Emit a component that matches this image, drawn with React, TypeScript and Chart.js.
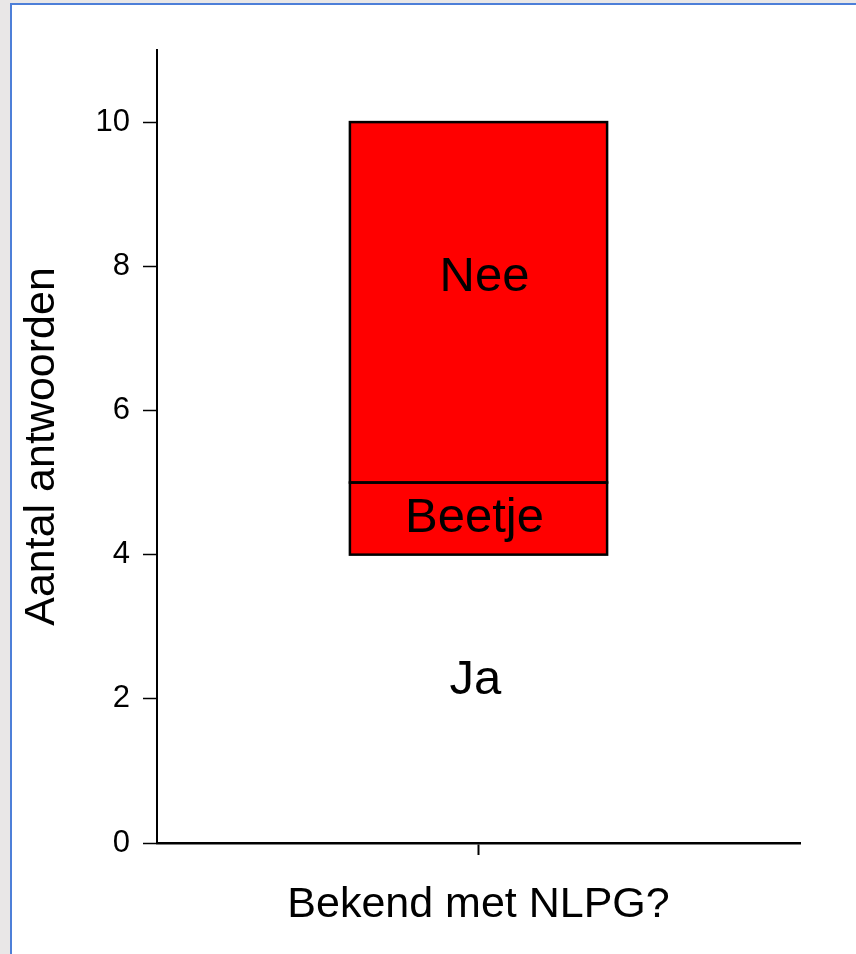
import React, { useEffect, useRef } from "react";
import { Chart, registerables } from "chart.js";

Chart.register(...registerables);

// ---- data ----
const categories = ["Bekend met NLPG?"];
const seriesNames = ["Ja", "Beetje", "Nee"];
const jaValues = [4];
const beetjeValues = [1];
const neeValues = [5];
const yTicks = [0, 2, 4, 6, 8, 10];
const yMax = 11;

const FONT = "'Liberation Sans', Arial, Helvetica, sans-serif";

// where each segment's label sits (value units), per dataset
const labelAnchors = [2.25, 4.5, 7.85];
const labelShift = [-3, -4, 6];
// which segments get an outline
const outlined = [false, true, true];

const segmentPlugin = {
  id: "segmentDecor",
  afterDatasetsDraw(chart: any) {
    const ctx = chart.ctx;
    const yScale = chart.scales.y;
    ctx.save();
    // outlines
    ctx.strokeStyle = "#000";
    ctx.lineWidth = 2.5;
    chart.data.datasets.forEach((_ds: any, i: number) => {
      if (!outlined[i]) return;
      const meta = chart.getDatasetMeta(i);
      meta.data.forEach((bar: any) => {
        const left = bar.x - bar.width / 2;
        const top = Math.min(bar.y, bar.base);
        const h = Math.abs(bar.base - bar.y);
        ctx.strokeRect(left, top, bar.width, h);
      });
    });
    // labels
    ctx.font = `49px ${FONT}`;
    ctx.fillStyle = "#000";
    ctx.textAlign = "center";
    ctx.textBaseline = "middle";
    chart.data.datasets.forEach((ds: any, i: number) => {
      const meta = chart.getDatasetMeta(i);
      meta.data.forEach((bar: any) => {
        const y = yScale.getPixelForValue(labelAnchors[i]);
        ctx.fillText(ds.label, bar.x + labelShift[i], y);
      });
    });
    ctx.restore();
  },
};

export default function App() {
  const ref = useRef<HTMLCanvasElement | null>(null);

  useEffect(() => {
    if (!ref.current) return;
    const chart = new Chart(ref.current, {
      type: "bar",
      data: {
        labels: categories,
        datasets: [
          {
            label: seriesNames[0],
            data: jaValues,
            backgroundColor: "rgba(0,0,0,0)",
            borderWidth: 0,
          },
          {
            label: seriesNames[1],
            data: beetjeValues,
            backgroundColor: "#ff0000",
            borderWidth: 0,
          },
          {
            label: seriesNames[2],
            data: neeValues,
            backgroundColor: "#ff0000",
            borderWidth: 0,
          },
        ] as any,
      },
      options: {
        animation: false,
        responsive: false,
        maintainAspectRatio: false,
        layout: { padding: { left: 0, top: 50, right: 56, bottom: 0 } },
        plugins: {
          legend: { display: false },
          tooltip: { enabled: false },
        },
        datasets: {
          bar: { categoryPercentage: 1, barPercentage: 0.4 },
        },
        scales: {
          x: {
            stacked: true,
            grid: {
              display: true,
              drawOnChartArea: false,
              drawTicks: true,
              tickLength: 12,
              tickWidth: 2,
              tickColor: "#000",
              offset: false,
            },
            border: { display: true, color: "#000", width: 2.5 },
            ticks: { callback: () => "", font: { size: 1 } },
            title: {
              display: true,
              text: categories[0],
              color: "#000",
              font: { family: FONT, size: 43 },
              padding: { top: 0, bottom: 23 },
            },
            afterFit: (scale: any) => {
              scale.height = 111;
            },
          },
          y: {
            stacked: true,
            min: 0,
            max: yMax,
            afterBuildTicks: (scale: any) => {
              scale.ticks = yTicks.map((v) => ({ value: v }));
            },
            grid: {
              display: true,
              drawOnChartArea: false,
              drawTicks: true,
              tickLength: 14,
              tickWidth: 1.5,
              tickColor: "#000",
            },
            border: { display: true, color: "#000", width: 2 },
            ticks: {
              color: "#000",
              padding: 13,
              font: { family: FONT, size: 31 },
            },
            title: {
              display: true,
              text: "Aantal antwoorden",
              color: "#000",
              font: { family: FONT, size: 43 },
              padding: { top: 16, bottom: 0 },
            },
            afterFit: (scale: any) => {
              scale.width = 157;
            },
          },
        },
      } as any,
      plugins: [segmentPlugin],
    });
    return () => chart.destroy();
  }, []);

  return (
    <div
      style={{
        position: "fixed",
        left: 0,
        top: 0,
        width: 856,
        height: 954,
        background: "#e9e7e7",
        overflow: "hidden",
      }}
    >
      <div
        style={{
          position: "absolute",
          left: 10,
          top: 3,
          width: 900,
          height: 1000,
          background: "#ffffff",
          border: "2px solid #4d7fd8",
          boxSizing: "border-box",
        }}
      />
      <canvas
        ref={ref}
        width={856}
        height={954}
        style={{ position: "absolute", left: 0, top: 0, width: 856, height: 954 }}
      />
    </div>
  );
}
